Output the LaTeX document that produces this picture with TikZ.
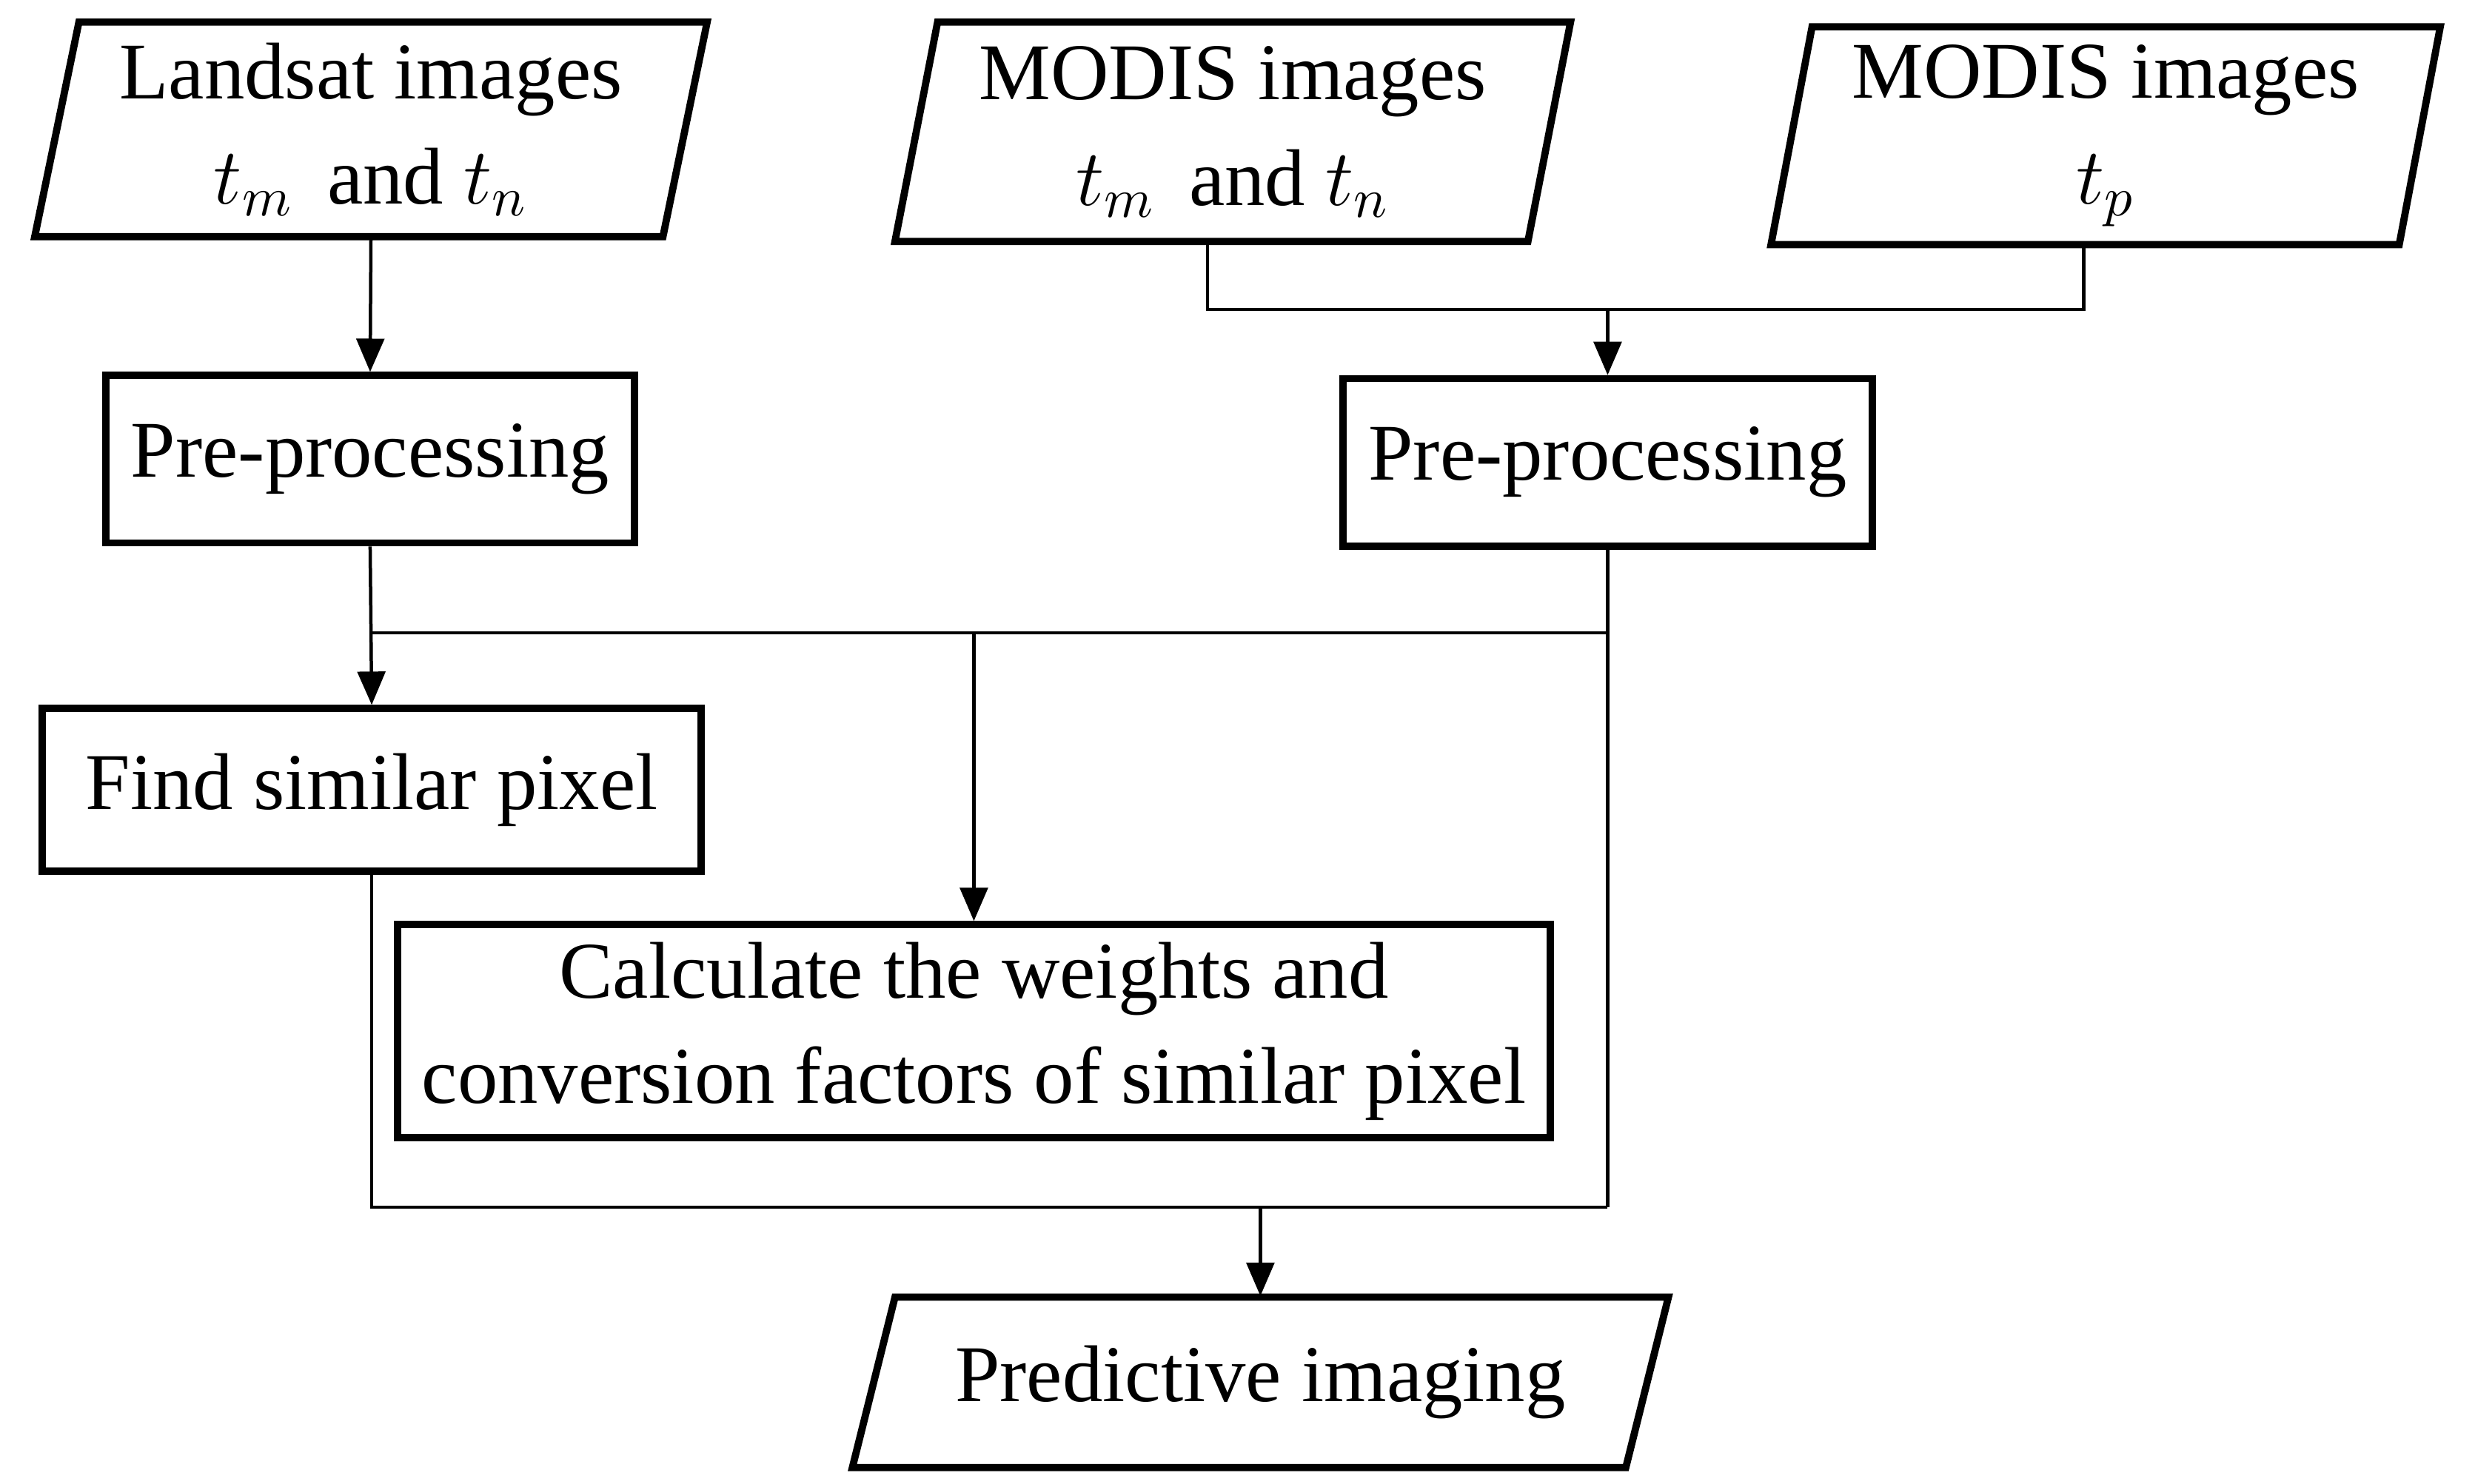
\documentclass[tikz,border=0pt]{standalone}
\usepackage{fontspec}
\setmainfont{Liberation Serif}
\usetikzlibrary{arrows.meta}
\begin{document}
\begin{tikzpicture}[x=0.01cm,y=-0.01cm,
  box/.style={draw,line width=1.3pt,inner sep=0pt,font=\fontsize{14.5}{19}\selectfont,align=center},
  txt/.style={inner sep=0pt,font=\fontsize{14.5}{19}\selectfont,align=center},
  con/.style={line width=0.6pt},
  arr/.style={con,-{Triangle[length=6pt,width=5pt]}}]
\useasboundingbox (0,0) rectangle (1568,940);
% parallelograms
\draw[line width=1.3pt] (50,14)--(448,14)--(420,150)--(22,150)--cycle;
\node[txt,minimum width=3.7cm,minimum height=1.36cm] (L) at (235,82) {Landsat images\\ $t_m$\, and $t_n$};
\draw[line width=1.3pt] (594,14)--(995,14)--(968,153)--(567,153)--cycle;
\node[txt,minimum width=3.7cm,minimum height=1.39cm] (M1) at (781,83.5) {MODIS images\\ $t_m$\, and $t_n$};
\draw[line width=1.3pt] (1148,17)--(1546,17)--(1520,155)--(1122,155)--cycle;
\node[txt,minimum width=3.7cm,minimum height=1.38cm] (M2) at (1334,86) {MODIS images\\ $t_p$};
\draw[line width=1.3pt] (567,822)--(1057,822)--(1030,930)--(540,930)--cycle;
\node[txt,minimum width=4.6cm,minimum height=1.08cm] (P) at (798.5,876) {Predictive imaging};
% boxes
\node[box,minimum width=3.35cm,minimum height=1.06cm] (PL) at (234.5,291) {Pre-processing};
\node[box,minimum width=3.35cm,minimum height=1.06cm] (PR) at (1018.5,293) {Pre-processing};
\node[box,minimum width=4.17cm,minimum height=1.03cm] (F) at (235.5,500.5) {Find similar pixel};
\node[box,minimum width=7.3cm,minimum height=1.35cm] (C) at (617,653.5) {Calculate the weights and\\conversion factors of similar pixel};
% junction coordinates
\coordinate (j1) at (765,196);
\coordinate (j2) at (1320,196);
\coordinate (j3) at (1018.5,196);
\coordinate (k1) at (234.5,401);
\coordinate (k2) at (1018.5,401);
\coordinate (k3) at (617,401);
\coordinate (m1) at (235.5,765);
\coordinate (m2) at (1018.5,765);
\coordinate (m3) at (798.5,765);
% connectors
\draw[arr] (L.south) -- (PL.north);
\draw[con] (M1.south -| j1) -- (j1) -- (j2) -- (M2.south -| j2);
\draw[arr] (j3) -- (PR.north);
\draw[arr] (PL.south) -- (F.north);
\draw[con] (k1) -- (k2);
\draw[con] (PR.south) -- (m2);
\draw[arr] (k3) -- (C.north);
\draw[con] (F.south) -- (m1) -- (m2);
\draw[arr] (m3) -- (P.north);
\end{tikzpicture}
\end{document}
